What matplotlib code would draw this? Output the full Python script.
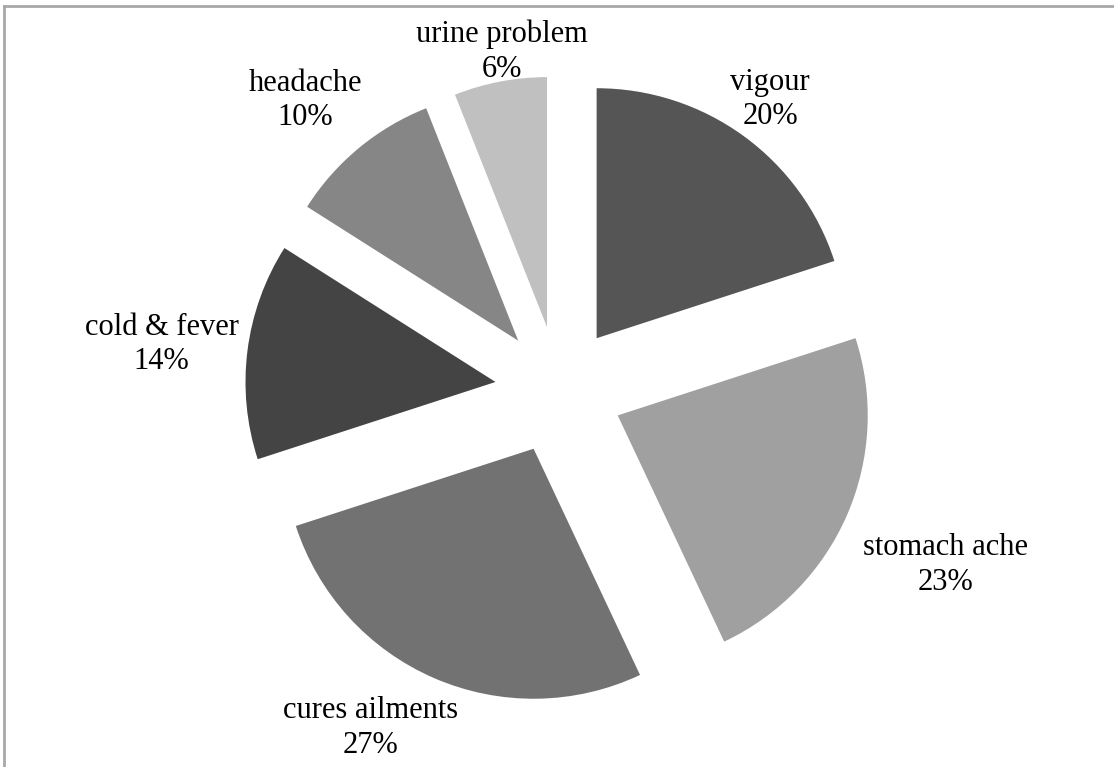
import numpy as np
import matplotlib
matplotlib.use("Agg")
import matplotlib.pyplot as plt
from matplotlib.lines import Line2D

# Data
labels = ["vigour", "stomach ache", "cures ailments", "cold & fever",
          "headache", "urine problem"]
shares = [20, 23, 27, 14, 10, 6]
colors = ["#555555", "#a0a0a0", "#727272", "#444444", "#868686", "#c0c0c0"]
# label placement (Excel "best fit" look): distance from pie centre in radii,
# and angular nudge from the slice middle in degrees (clockwise)
label_dist = [1.436, 1.696, 1.548, 1.60, 1.54, 1.372]
label_nudge = [0.0, 1.0, 5.8, -0.7, -1.6, 1.2]

W, H = 1114, 767
R = 250
CX, CY = 559, H - 390
EXPLODE = 64  # matplotlib explode is in data units

plt.rcParams["font.family"] = ["Liberation Serif", "DejaVu Serif"]

fig = plt.figure(figsize=(W / 100, H / 100), dpi=100)
ax = fig.add_axes([0, 0, 1, 1])

wedges, _ = ax.pie(shares, colors=colors, startangle=90, counterclock=False,
                   explode=[EXPLODE] * len(shares), radius=R, center=(CX, CY),
                   frame=True, wedgeprops=dict(linewidth=0))
ax.set_xlim(0, W)
ax.set_ylim(0, H)
ax.set_aspect("equal")
ax.axis("off")

for w, lab, val, ld, nd in zip(wedges, labels, shares, label_dist, label_nudge):
    mid = np.deg2rad((w.theta1 + w.theta2) / 2 - nd)
    x = CX + ld * R * np.cos(mid)
    y = CY + ld * R * np.sin(mid)
    ax.text(x, y, f"{lab}\n{val}%", ha="center", va="center",
            fontsize=22, linespacing=1.25, color="black")

# grey frame (only top and left edges visible in the original crop)
fig.add_artist(Line2D([4 / W, 4 / W], [0, 1 - 6 / H], transform=fig.transFigure,
                      color="#a8a8a8", lw=2))
fig.add_artist(Line2D([4 / W, 1], [1 - 6 / H, 1 - 6 / H], transform=fig.transFigure,
                      color="#a8a8a8", lw=2))

fig.savefig("out.png", dpi=100)
